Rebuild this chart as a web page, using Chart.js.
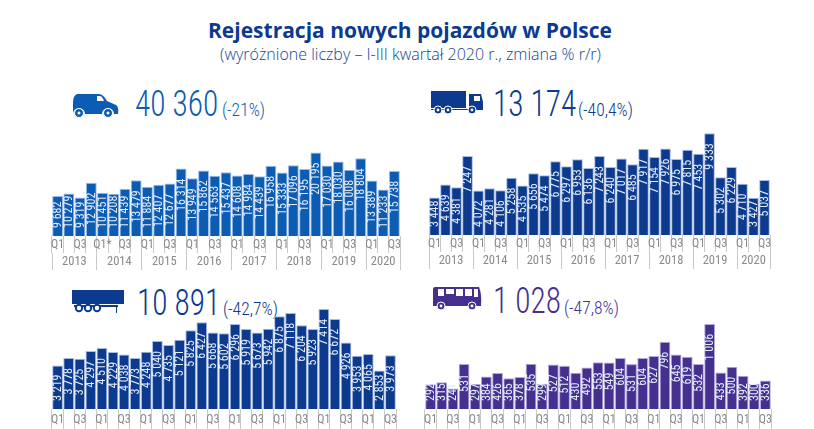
<!DOCTYPE html>
<html><head><meta charset="utf-8">
<script src="https://cdn.jsdelivr.net/npm/chart.js@4"></script>
<style>
html,body{margin:0;padding:0;background:#fff;width:814px;height:429px;overflow:hidden;font-family:"Open Sans",sans-serif}
canvas{position:absolute}
.t{position:absolute;white-space:nowrap}
.num{font-family:"Roboto Condensed","Roboto",sans-serif;font-weight:300;font-size:36px;line-height:40px;transform:scaleX(.87);transform-origin:left top}
.pct{font-family:"Roboto Condensed","Roboto",sans-serif;font-weight:300;font-size:17.5px;line-height:20px}
svg{position:absolute}
</style></head><body>
<div class="t" style="left:0;width:820px;text-align:center;top:16px;font-size:21px;font-weight:700;color:#0b3a8f;line-height:28px">Rejestracja nowych pojazdów w Polsce</div>
<div class="t" style="left:0;width:821px;text-align:center;top:43px;font-size:16px;font-weight:300;color:#143f94;line-height:22px">(wyróżnione liczby – I-III kwartał 2020 r., zmiana % r/r)</div>

<svg style="left:72px;top:93px" width="48" height="26" viewBox="0 0 48 26"><path fill="#0c5cb4" d="M1 21V9Q1 3 5 1H27Q31 1 35 8L44 12Q47 14 46 21H42a6 6 0 0 0-12 0H13a6 6 0 0 0-12 0Z"/><path fill="#fff" d="M25 3h3q2 0 4 5h-7Z"/><circle cx="7" cy="20" r="4.5" fill="#0c5cb4" stroke="#fff"/><circle cx="36" cy="20" r="4.5" fill="#0c5cb4" stroke="#fff"/><circle cx="7" cy="20" r="1.5" fill="#fff"/><circle cx="36" cy="20" r="1.5" fill="#fff"/></svg>
<div class="t num" style="left:135px;top:84px;color:#0c5cb4">40 360</div>
<div class="t pct" style="left:222px;top:100px;color:#0c5cb4">(-21%)</div>

<svg style="left:431px;top:90px" width="54" height="26" viewBox="0 0 54 26"><rect x="0" y="1" width="35" height="17" fill="#0b3a8f"/><path fill="#0b3a8f" d="M38 4H50L52 12V20H0V19H38Z"/><rect x="43" y="6" width="6" height="5" fill="#fff"/><g fill="#0b3a8f" stroke="#fff"><circle cx="7" cy="20" r="4"/><circle cx="17" cy="20" r="4"/><circle cx="41" cy="20" r="4"/></g><g fill="#fff"><circle cx="7" cy="20" r="1.4"/><circle cx="17" cy="20" r="1.4"/><circle cx="41" cy="20" r="1.4"/></g></svg>
<div class="t num" style="left:493px;top:84px;color:#0b3a8f">13 174</div>
<div class="t pct" style="left:578px;top:100px;color:#0b3a8f">(-40,4%)</div>

<svg style="left:72px;top:290px" width="54" height="24" viewBox="0 0 54 24"><rect x="0" y="0" width="52" height="14" fill="#0b3a8f"/><rect x="2" y="15" width="44" height="2" fill="#0b3a8f"/><rect x="44" y="15" width="1" height="8" fill="#0b3a8f"/><g fill="#fff" stroke="#0b3a8f" stroke-width="2"><circle cx="7" cy="18" r="3.2"/><circle cx="16" cy="18" r="3.2"/><circle cx="25" cy="18" r="3.2"/></g></svg>
<div class="t num" style="left:137px;top:283px;color:#0b3a8f">10 891</div>
<div class="t pct" style="left:223px;top:299px;color:#0b3a8f">(-42,7%)</div>

<svg style="left:432px;top:286px" width="52" height="25" viewBox="0 0 52 25"><path fill="#46308f" d="M3 1H47Q50 8 49 20H1V3Q1 1 3 1Z"/><g fill="#fff"><rect x="6" y="3" width="6" height="7"/><rect x="14" y="3" width="8" height="5"/><rect x="24" y="3" width="7" height="7"/><rect x="33" y="3" width="7" height="7"/><rect x="42" y="3" width="4" height="8"/></g><g fill="#46308f" stroke="#fff"><circle cx="9" cy="20" r="4"/><circle cx="40" cy="20" r="4"/></g><g fill="#fff"><circle cx="9" cy="20" r="1.4"/><circle cx="40" cy="20" r="1.4"/></g></svg>
<div class="t num" style="left:493px;top:281px;color:#46308f">1 028</div>
<div class="t pct" style="left:564px;top:298px;color:#46308f">(-47,8%)</div>

<canvas id="c1" style="left:50px;top:145px"></canvas>
<canvas id="c2" style="left:427px;top:126px"></canvas>
<canvas id="c3" style="left:50px;top:301px"></canvas>
<canvas id="c4" style="left:423px;top:316px"></canvas>

<script>
const quarters = ["Q1","","Q3","","Q1","","Q3","","Q1","","Q3","","Q1","","Q3","","Q1","","Q3","","Q1","","Q3","","Q1","","Q3","","Q1","","Q3"];
const quartersVans = ["Q1","","Q3","","Q1*","","Q3","","Q1","","Q3","","Q1","","Q3","","Q1","","Q3","","Q1","","Q3","","Q1","","Q3","","Q1","","Q3"];
const years = ["2013","2014","2015","2016","2017","2018","2019","2020"];
const quartersPerYear = [4,4,4,4,4,4,4,3];

const vans = [9682,10279,9319,12902,10451,10208,11439,13479,11884,12407,12677,16314,13949,15862,14563,15437,14608,14984,14439,16958,15333,17096,16195,20195,17030,18030,16008,18804,13389,11233,15738];
const trucks = [3448,4639,4381,7247,4072,4281,4106,5258,4535,5656,5474,6775,6297,6953,6136,7243,6240,7017,6485,7917,7154,7926,6975,7815,7453,9333,5302,6229,4710,3427,5037];
const trailers = [3219,3778,3725,4297,4510,4229,4038,3773,4248,5040,4735,5121,5825,6427,5668,5602,6296,5919,5673,5942,6875,7118,6204,5923,7414,6672,4926,3953,4065,2853,3973];
const buses = [292,315,241,531,297,384,426,365,378,535,299,527,512,430,492,553,549,604,531,604,627,796,645,619,532,1006,433,500,392,300,336];

const NARROW = '"Roboto Condensed","Roboto",sans-serif';
const fmt = v => String(v).replace(/\B(?=(\d{3})+$)/g, ' ');

const barLabels = {
  id: 'barLabels',
  afterDatasetsDraw(chart) {
    const ctx = chart.ctx, ds = chart.data.datasets[0];
    chart.getDatasetMeta(0).data.forEach((bar, i) => {
      const s = fmt(ds.data[i]);
      ctx.save();
      ctx.font = '12px ' + NARROW;
      const len = ctx.measureText(s).width;
      const h = bar.base - bar.y;
      const off = Math.min(10, h - len - 8);
      ctx.translate(bar.x, bar.y + off);
      ctx.rotate(-Math.PI / 2);
      ctx.fillStyle = '#e3ecf9';
      ctx.textAlign = 'right';
      ctx.textBaseline = 'middle';
      ctx.fillText(s, 0, 0.5);
      ctx.restore();
    });
  }
};

function yearTicks() {
  const out = [{value: -0.5}]; let start = 0;
  quartersPerYear.forEach(n => {
    out.push({value: start + (n - 1) / 2});
    out.push({value: start + n - 0.5});
    start += n;
  });
  return out;
}
function yearLabel(v) {
  let start = 0;
  for (let i = 0; i < years.length; i++) {
    if (v === start + (quartersPerYear[i] - 1) / 2) return years[i];
    start += quartersPerYear[i];
  }
  return '';
}

function make(id, w, h, labels, values, yMax, color, edge, withYears) {
  const cv = document.getElementById(id);
  cv.style.width = w + 'px'; cv.style.height = h + 'px';
  cv.width = w; cv.height = h;
  const scales = {
    x: {
      type: 'category', position: 'bottom', offset: true,
      grid: {drawOnChartArea: false, offset: true, tickLength: withYears ? 17 : 20, tickColor: '#c9c9c9', tickWidth: 1},
      border: {display: false},
      ticks: {autoSkip: false, maxRotation: 0, minRotation: 0, padding: withYears ? -15 : -16, color: '#8a8a8a', font: {family: NARROW, size: 12}},
      afterFit(s) { s.height = withYears ? 17 : 20; }
    },
    y: {display: false, min: 0, max: yMax}
  };
  if (withYears) {
    scales.yr = {
      type: 'linear', axis: 'x', position: 'bottom', min: -0.5, max: 30.5, weight: 1, offset: false,
      grid: {drawOnChartArea: false, offset: false, tickLength: 17, tickWidth: 1,
        tickColor: c => (c.tick && c.tick.label) ? 'rgba(0,0,0,0)' : '#c9c9c9'},
      border: {display: false},
      afterBuildTicks(s) { s.ticks = yearTicks(); },
      ticks: {autoSkip: false, maxRotation: 0, minRotation: 0, padding: -16, color: '#8a8a8a', font: {family: NARROW, size: 12.5}, callback: yearLabel},
      afterFit(s) { s.height = 17; }
    };
  }
  new Chart(cv, {
    type: 'bar',
    data: {labels, datasets: [{data: values, backgroundColor: color, borderColor: edge, borderWidth: 1, barPercentage: 1, categoryPercentage: 0.97}]},
    options: {
      responsive: false, animation: false, events: [],
      layout: {padding: {left: 2, right: 2, top: 0, bottom: 0}},
      plugins: {legend: {display: false}, tooltip: {enabled: false}, title: {display: false}},
      scales
    },
    plugins: [barLabels]
  });
}
make('c1', 352, 125, quartersVans, vans, 22000, '#0c5cb4', '#9dbde6', true);
make('c2', 345, 143, quarters, trucks, 10000, '#0b3a8f', '#a8bbde', true);
make('c3', 348, 128, quarters, trailers, 8000, '#0b3a8f', '#a8bbde', false);
make('c4', 350, 113, quarters, buses, 1100, '#46308f', '#b5aad8', false);
</script>
</body></html>
